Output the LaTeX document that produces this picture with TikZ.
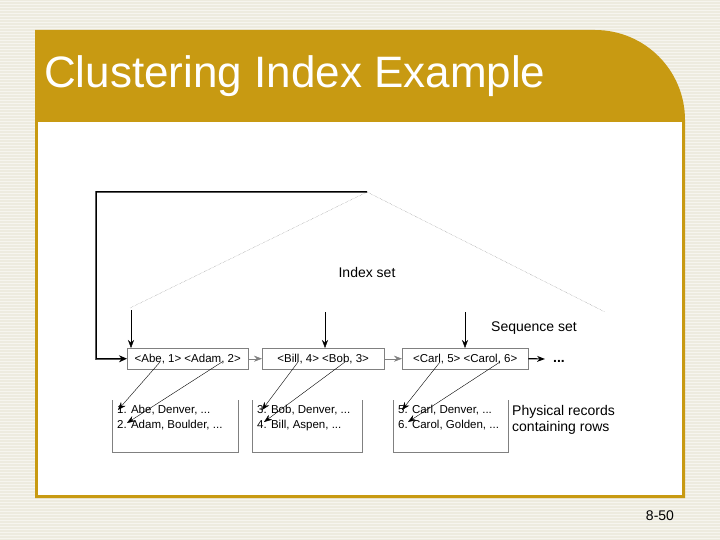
\documentclass[tikz,border=0pt]{standalone}
\usepackage{fontspec}
\setmainfont{Liberation Sans}
\usetikzlibrary{arrows.meta}
\definecolor{gold}{HTML}{C89A12}
\definecolor{bgc}{HTML}{EDEBDF}
\begin{document}
\begin{tikzpicture}[x=1pt,y=-1pt,
  key/.style={draw=gray,minimum height=21pt,inner sep=0pt,font=\fontsize{11.5}{12}\selectfont},
  rec/.style={font=\fontsize{11.5}{15}\selectfont,align=left,anchor=north west,inner sep=0pt},
  lbl/.style={font=\fontsize{14}{16}\selectfont,align=left,inner sep=0pt},
  arr/.style={-{Stealth[length=8pt,width=6pt]},thin}]
\useasboundingbox (0,0) rectangle (720,540);
\fill[bgc] (0,0) rectangle (720,540);
\foreach \y in {1,4,...,540} \draw[white,opacity=0.5,line width=0.8pt] (0,\y) -- (720,\y);
\fill[gold] (35,30) -- (595,30) arc[start angle=-90,end angle=0,radius=90] -- (685,498) -- (35,498) -- cycle;
\fill[white] (38,122) rectangle (682,495);
\node[anchor=west,text=white,font=\fontsize{44}{48}\selectfont,inner sep=0pt] (title) at (44,76) {Clustering Index Example};
% triangle
\coordinate (apex) at (367,192);
\coordinate (bl) at (130,308);
\coordinate (br) at (605,312);
\draw[gray,densely dotted,thin] (bl) -- (apex) -- (br);
\node[lbl] (idx) at (367,272) {Index set};
\node[lbl,anchor=west] (seq) at (491,328) {Sequence set};
% key boxes
\node[key,minimum width=121pt,anchor=north west] (k1) at (127,348) {<Abe, 1> <Adam, 2>};
\node[key,minimum width=122pt,anchor=north west] (k2) at (262,348) {<Bill, 4> <Bob, 3>};
\node[key,minimum width=126pt,anchor=north west] (k3) at (402,348) {<Carl, 5> <Carol, 6>};
\coordinate (etc) at (545,359);
\node[font=\bfseries\fontsize{14}{14}\selectfont,inner sep=0pt] (dots) at (559,361) {...};
\draw[line width=1.5pt,-{Stealth[length=8pt,width=7pt]}] (apex) -- (96,192) -- (96,359) -- (k1.west);
\draw[arr,gray] (k1.east) -- (k2.west);
\draw[arr,gray] (k2.east) -- (k3.west);
\draw[arr,line width=1.2pt] (k3.east) -- (etc);
\coordinate (d1) at (131,310); \coordinate (d2) at (325,312); \coordinate (d3) at (465,312);
\draw[arr] (d1) -- (d1 |- k1.north);
\draw[arr] (d2) -- (d2 |- k2.north);
\draw[arr] (d3) -- (d3 |- k3.north);
% record boxes (open top)
\draw[gray] (112,400) -- (112,452) -- (238,452) -- (238,400);
\draw[gray] (252,400) -- (252,452) -- (362,452) -- (362,400);
\draw[gray] (393,400) -- (393,452) -- (508,452) -- (508,400);
\node[rec] (r1) at (117,405) {1. Abe, Denver, ...\\2. Adam, Boulder, ...};
\node[rec] (r2) at (257,405) {3. Bob, Denver, ...\\4. Bill, Aspen, ...};
\node[rec] (r3) at (398,405) {5. Carl, Denver, ...\\6. Carol, Golden, ...};
\node[lbl,anchor=north west] (phys) at (512,405) {Physical records\\containing rows};
\coordinate (a1) at (160,362); \coordinate (t1) at (118,410);
\coordinate (a2) at (222,362); \coordinate (t2) at (127,423);
\coordinate (a3) at (298,362); \coordinate (t3) at (262,410);
\coordinate (a4) at (345,362); \coordinate (t4) at (264,422);
\coordinate (a5) at (440,362); \coordinate (t5) at (402,410);
\coordinate (a6) at (500,362); \coordinate (t6) at (408,422);
\foreach \i in {1,...,6} \draw[arr] (a\i) -- (t\i);
\node[font=\fontsize{14}{14}\selectfont,inner sep=0pt] (pg) at (660,516) {8-50};
\end{tikzpicture}
\end{document}
